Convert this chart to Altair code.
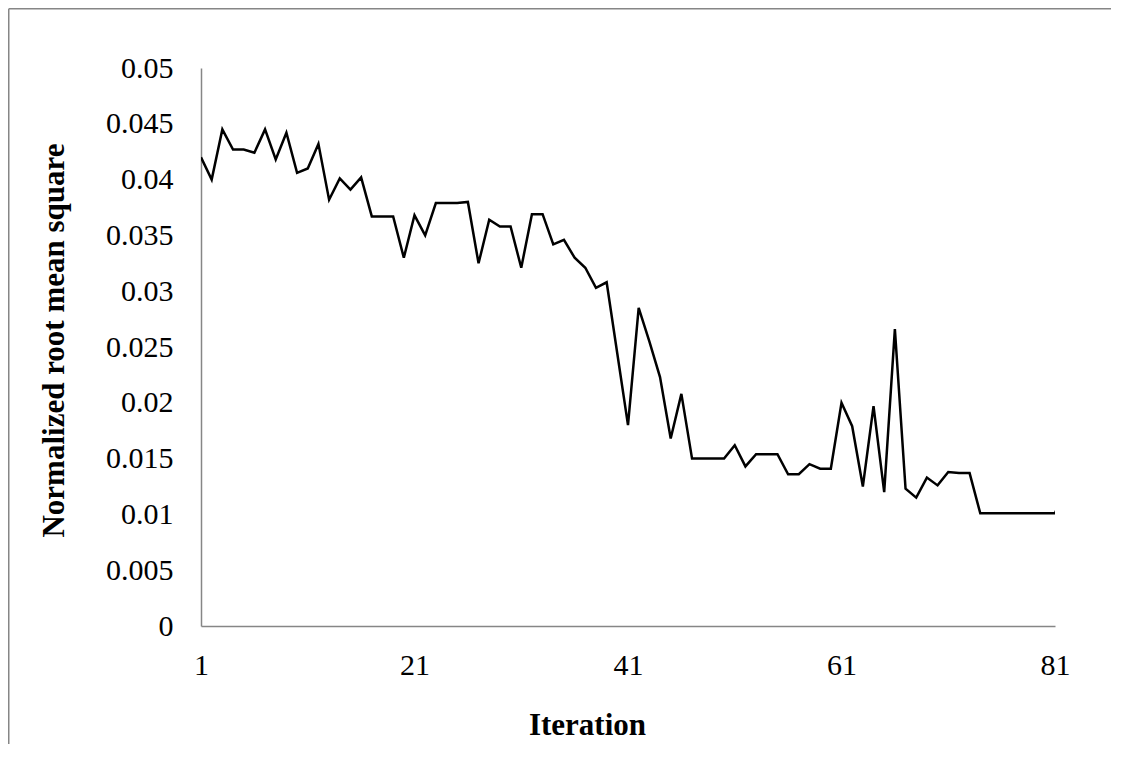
import altair as alt
import pandas as pd

iterations = list(range(1, 83))
nrms = [
    0.0420, 0.0400, 0.0445, 0.0427, 0.0427, 0.0424, 0.0445, 0.0418, 0.0442, 0.0406,
    0.0410, 0.0432, 0.0382, 0.0401, 0.0391, 0.0402, 0.0367, 0.0367, 0.0367, 0.0330,
    0.0368, 0.0350, 0.0379, 0.0379, 0.0379, 0.0380, 0.0325, 0.0364, 0.0358, 0.0358,
    0.0321, 0.0369, 0.0369, 0.0342, 0.0346, 0.0330, 0.0321, 0.0303, 0.0308, 0.0244,
    0.0180, 0.0285, 0.0255, 0.0223, 0.0168, 0.0208, 0.0150, 0.0150, 0.0150, 0.0150,
    0.0162, 0.0143, 0.0154, 0.0154, 0.0154, 0.0136, 0.0136, 0.0145, 0.0141, 0.0141,
    0.0200, 0.0179, 0.0125, 0.0197, 0.0120, 0.0266, 0.0123, 0.0115, 0.0133, 0.0126,
    0.0138, 0.0137, 0.0137, 0.0101, 0.0101, 0.0101, 0.0101, 0.0101, 0.0101, 0.0101,
    0.0101, 0.0125,
]
x_ticks = [1, 21, 41, 61, 81]
y_ticks = [0, 0.005, 0.01, 0.015, 0.02, 0.025, 0.03, 0.035, 0.04, 0.045, 0.05]

df = pd.DataFrame({"Iteration": iterations, "NRMS": nrms})

W, H = 854, 558
PAD = {"left": 193, "top": 60, "right": 56, "bottom": 118}
FONT = "Liberation Serif"
AXIS_GRAY = "#868686"

line = alt.Chart(df).mark_line(color="black", strokeWidth=2.5, clip=True).encode(
    x=alt.X(
        "Iteration:Q",
        scale=alt.Scale(domain=[1, 81], nice=False, zero=False),
        axis=alt.Axis(
            values=x_ticks,
            title="Iteration",
            grid=False,
            ticks=False,
            tickSize=0,
            domainColor=AXIS_GRAY,
            domainWidth=1.5,
            labelFont=FONT,
            labelFontSize=30,
            labelColor="black",
            labelPadding=24,
            labelFlush=False,
            titleFont=FONT,
            titleFontSize=31,
            titleFontWeight="bold",
            titleColor="black",
            titleX=386,
            titleY=108,
            titleBaseline="alphabetic",
            titleAlign="center",
        ),
    ),
    y=alt.Y(
        "NRMS:Q",
        scale=alt.Scale(domain=[0, 0.05], nice=False),
        axis=alt.Axis(
            values=y_ticks,
            format="~g",
            title="Normalized root mean square",
            grid=False,
            ticks=False,
            tickSize=0,
            domainColor=AXIS_GRAY,
            domainWidth=1.5,
            labelFont=FONT,
            labelFontSize=30,
            labelColor="black",
            labelPadding=28,
            labelFlush=False,
            titleFont=FONT,
            titleFontSize=31,
            titleFontWeight="bold",
            titleColor="black",
            titleAngle=-90,
            titleX=-138,
            titleY=272,
            titleBaseline="alphabetic",
            titleAlign="center",
        ),
    ),
)

frame_src = alt.Data(values=[{"k": 1}])
left_edge = alt.Chart(frame_src).mark_rule(
    color=AXIS_GRAY, strokeWidth=1.5, clip=False
).encode(
    x=alt.value(-PAD["left"] + 0.75),
    y=alt.value(-PAD["top"] + 0.75),
    y2=alt.value(H + PAD["bottom"]),
)
top_edge = alt.Chart(frame_src).mark_rule(
    color=AXIS_GRAY, strokeWidth=1.5, clip=False
).encode(
    x=alt.value(-PAD["left"] + 0.75),
    x2=alt.value(W + PAD["right"]),
    y=alt.value(-PAD["top"] + 0.75),
)

chart = (
    alt.layer(left_edge, top_edge, line)
    .properties(
        width=W,
        height=H,
        padding=PAD,
        autosize=alt.AutoSizeParams(type="none"),
        background="white",
    )
    .configure_view(stroke=None)
)

chart.save("out.html", embed_options={"renderer": "svg", "actions": False})
